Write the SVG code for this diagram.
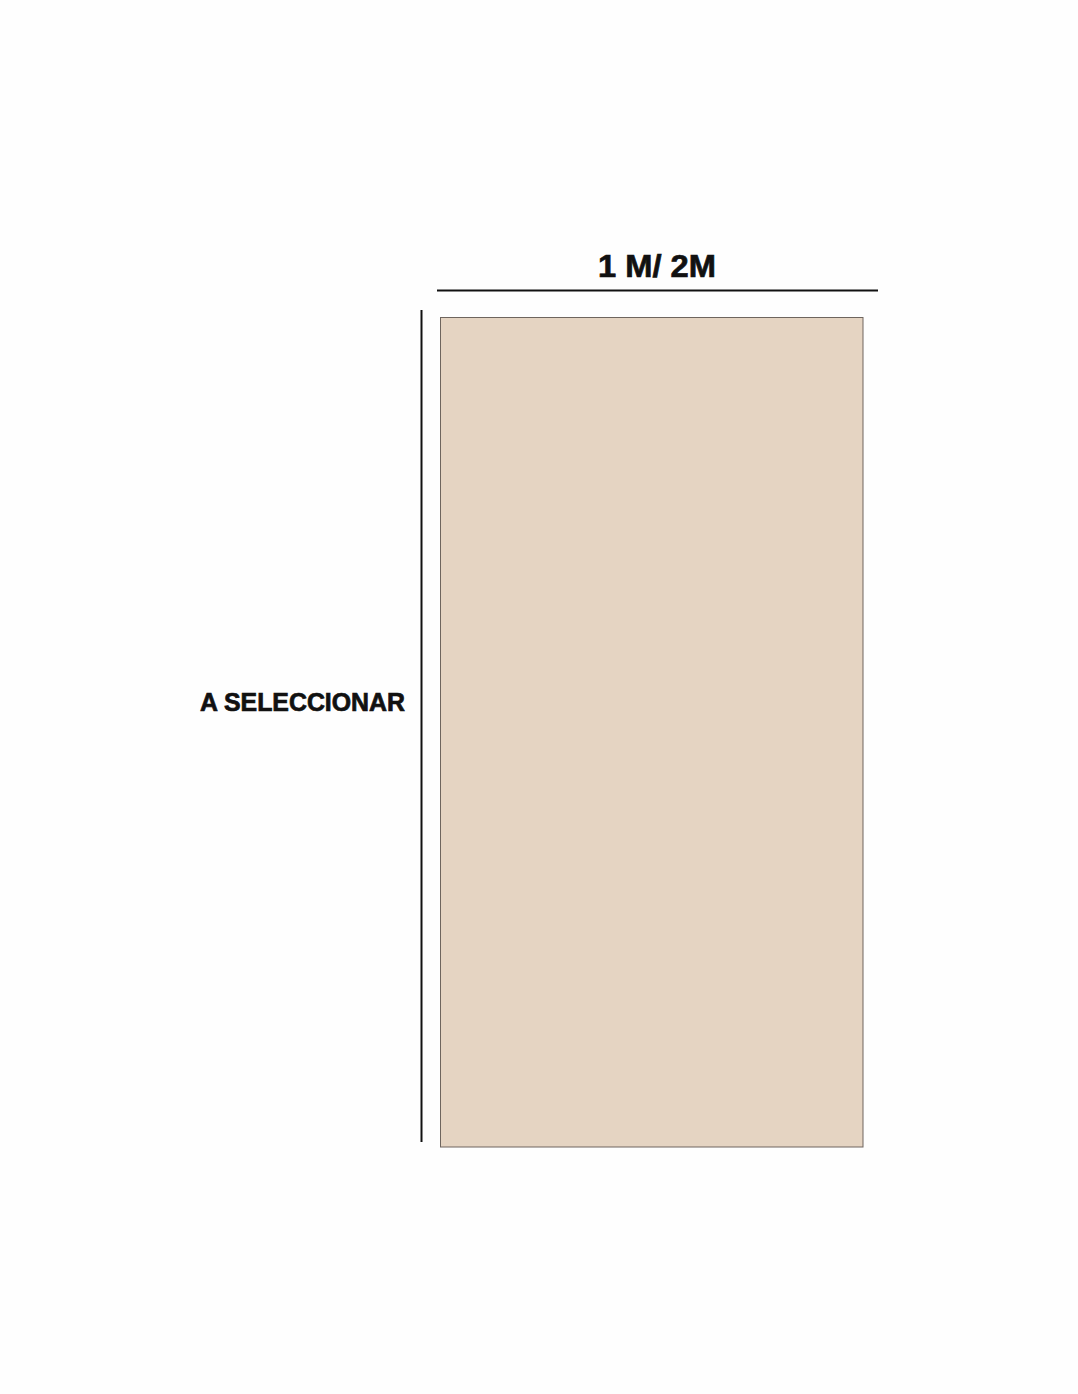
<svg xmlns="http://www.w3.org/2000/svg" width="1078" height="1394" viewBox="0 0 1078 1394">
<style>
.lbl{font-family:"Liberation Sans",Arial,sans-serif;font-weight:bold;fill:#111;stroke:#111;stroke-width:0.7;}
.dim{stroke:#111;stroke-width:2;fill:none;}
</style>
<rect x="0" y="0" width="1078" height="1394" fill="#fefefe"/>
<g id="panel">
<rect x="440.5" y="317.5" width="422.5" height="829.5" fill="#e5d4c2" stroke="#6e655e" stroke-width="1"/>
</g>
<g id="connectors">
<line class="dim" x1="437" y1="290.5" x2="878" y2="290.5"/>
<line class="dim" x1="421.5" y1="310" x2="421.5" y2="1142"/>
</g>
<g id="width-label">
<text class="lbl" x="657" y="277" text-anchor="middle" font-size="31" textLength="118" lengthAdjust="spacingAndGlyphs">1 M/ 2M</text>
</g>
<g id="height-label">
<text class="lbl" x="200" y="711" font-size="25" textLength="205" lengthAdjust="spacingAndGlyphs">A SELECCIONAR</text>
</g>
</svg>
